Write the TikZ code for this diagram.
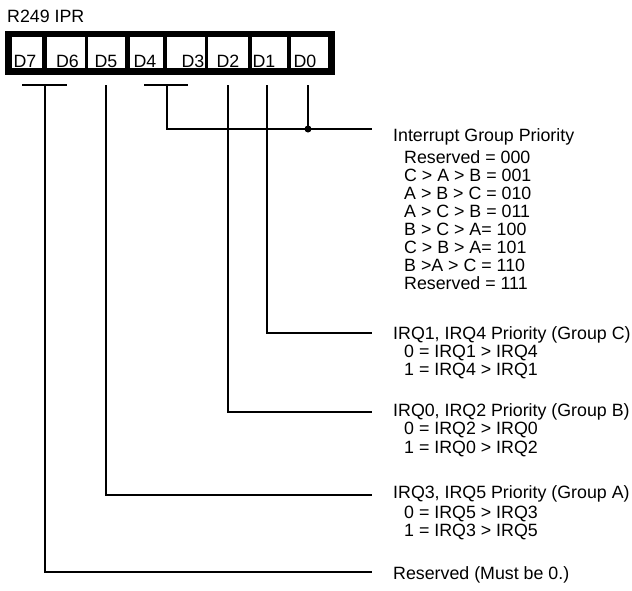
\documentclass[tikz,border=0pt]{standalone}
\usepackage{fontspec}
\setmainfont{Liberation Sans}
\usetikzlibrary{positioning}

\tikzset{
    cell/.style={fill=white, minimum height=31pt, inner sep=0pt},
    wire/.style={line width=2.8pt},
    txt/.style={anchor=base west, inner sep=0pt},
}

\begin{document}
\begin{tikzpicture}[x=1pt, y=-1pt, font=\fontsize{17.8}{19}\selectfont]
    \useasboundingbox (0,0) rectangle (632,590);
    \node[txt] (title) at (7,22) {R249 IPR};
    % register
    \node[fill=black, minimum width=330pt, minimum height=44pt, inner sep=0pt] (ipr) at (170,53) {};
    \foreach \n/\l/\r/\t in {7/12/42/25, 6/47/85/67.5, 5/88/125/106, 4/130/163/145, 3/167/205/193, 2/208/248/228, 1/252/287/264, 0/291/328/305} {
        \node[cell, minimum width={(\r-\l)*1pt}] (d\n) at ({(\l+\r)/2},52.5) {};
        \node[anchor=base, inner sep=0pt] (t\n) at (\t,67) {D\n};
    }
    % bit fields
    \coordinate (f76) at (45,85);
    \coordinate (f5) at (106,85);
    \coordinate (f43) at (167,85);
    \coordinate (f2) at (228,85);
    \coordinate (f1) at (267,85);
    \coordinate (f0) at (308,85);
    \coordinate (egrp) at (372,129);
    \coordinate (ec) at (372,333);
    \coordinate (eb) at (372,412);
    \coordinate (ea) at (372,495);
    \coordinate (er) at (372,572);
    \draw[wire] ([xshift=-23pt]f76) -- ([xshift=22pt]f76);
    \draw[wire] ([xshift=-23pt]f43) -- ([xshift=21pt]f43);
    \draw[wire] (f43) |- (egrp);
    \draw[wire] (f0) -- (f0 |- egrp);
    \fill (f0 |- egrp) circle (3.5pt);
    \draw[wire] (f1) |- (ec);
    \draw[wire] (f2) |- (eb);
    \draw[wire] (f5) |- (ea);
    \draw[wire] (f76) |- (er);
    % descriptions
    \node[txt] (grp) at (393,141) {Interrupt Group Priority};
    \foreach \s [count=\k] in {Reserved = 000, C > A > B = 001, A > B > C = 010, A > C > B = 011,
        B > C > A= 100, C > B > A= 101, B >A > C = 110, Reserved = 111} {
        \node[txt] (g\k) at (404,{146+17.9*\k}) {\s};
    }
    \node[txt] (irqc) at (393,339) {IRQ1, IRQ4 Priority (Group C)};
    \node[txt] (c0) at (404,357) {0 = IRQ1 > IRQ4};
    \node[txt] (c1) at (404,375) {1 = IRQ4 > IRQ1};
    \node[txt] (irqb) at (393,416) {IRQ0, IRQ2 Priority (Group B)};
    \node[txt] (b0) at (404,434) {0 = IRQ2 > IRQ0};
    \node[txt] (b1) at (404,453) {1 = IRQ0 > IRQ2};
    \node[txt] (irqa) at (393,498) {IRQ3, IRQ5 Priority (Group A)};
    \node[txt] (a0) at (404,518) {0 = IRQ5 > IRQ3};
    \node[txt] (a1) at (404,536) {1 = IRQ3 > IRQ5};
    \node[txt] (resv) at (393,579) {Reserved (Must be 0.)};
\end{tikzpicture}
\end{document}
